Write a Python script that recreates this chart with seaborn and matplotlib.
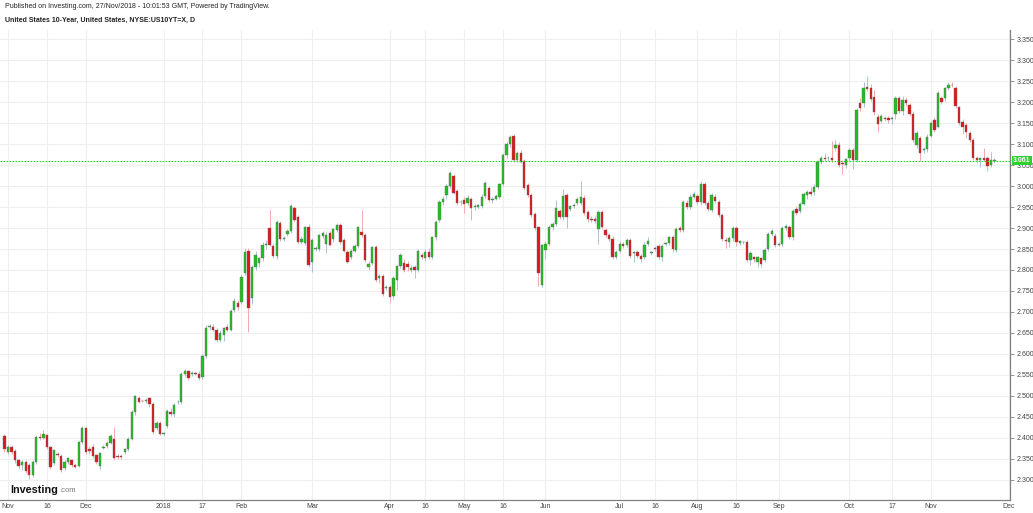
import numpy as np
import pandas as pd
import matplotlib
matplotlib.use('Agg')
import matplotlib.pyplot as plt
import matplotlib.transforms as mtransforms
import seaborn as sns

# daily candles, US 10Y yield, 31 Oct 2017 .. 27 Nov 2018 (weekdays)
opens = [
    2.405, 2.366, 2.377, 2.368, 2.346, 2.334, 2.343, 2.336, 2.310, 2.342, 2.401, 2.400, 2.406, 2.378, 2.340, 2.360,
    2.356, 2.328, 2.343, 2.346, 2.335, 2.333, 2.390,
    # dec
    2.422, 2.372, 2.378, 2.359, 2.332, 2.376, 2.380, 2.388, 2.396, 2.356, 2.355, 2.365, 2.372, 2.398, 2.462, 2.494,
    2.488, 2.487, 2.494, 2.480, 2.422,
    # jan
    2.436, 2.409, 2.428, 2.462, 2.456, 2.484, 2.485, 2.553, 2.558, 2.553, 2.553, 2.553, 2.545, 2.596, 2.664, 2.665,
    2.658, 2.633, 2.646, 2.665, 2.658, 2.704, 2.722,
    # feb
    2.724, 2.792, 2.846, 2.732, 2.806, 2.816, 2.828, 2.860, 2.900, 2.857, 2.833, 2.911, 2.875, 2.886, 2.892, 2.947,
    2.927, 2.867, 2.865, 2.903,
    # mar
    2.820, 2.850, 2.851, 2.880, 2.862, 2.887, 2.873, 2.895, 2.907, 2.872, 2.843, 2.830, 2.846, 2.857, 2.891, 2.883,
    2.808, 2.817, 2.854, 2.781, 2.785, 2.758,
    # apr
    2.760, 2.738, 2.776, 2.809, 2.817, 2.815, 2.800, 2.806, 2.800, 2.836, 2.828, 2.844, 2.830, 2.878, 2.919, 2.963,
    2.979, 3.000, 3.024, 2.988, 2.962,
    # may
    2.967, 2.960, 2.970, 2.950, 2.951, 2.952, 2.976, 2.996, 2.966, 2.970, 2.975, 3.006, 3.074, 3.100, 3.120, 3.062,
    3.080, 3.060, 3.003, 2.979, 2.933, 2.902, 2.764,
    # jun
    2.847, 2.862, 2.903, 2.909, 2.941, 2.927, 2.979, 2.945, 2.953, 2.960, 2.960, 2.971, 2.939, 2.922, 2.922, 2.897,
    2.939, 2.896, 2.883, 2.875, 2.832,
    # jul
    2.846, 2.861, 2.859, 2.871, 2.840, 2.843, 2.833, 2.830, 2.862, 2.840, 2.853, 2.857, 2.830, 2.862, 2.865, 2.879,
    2.848, 2.899, 2.895, 2.960, 2.951, 2.975,
    # aug
    2.976, 2.963, 3.005, 2.959, 2.943, 2.975, 2.962, 2.931, 2.872, 2.867, 2.877, 2.900, 2.864, 2.867, 2.867, 2.824,
    2.830, 2.818, 2.828, 2.824, 2.851, 2.886, 2.881,
    # sep
    2.860, 2.862, 2.900, 2.903, 2.878, 2.945, 2.940, 2.958, 2.978, 2.985, 2.985, 2.999, 3.058, 3.067, 3.066, 3.067,
    3.090, 3.098, 3.055, 3.050,
    # oct
    3.066, 3.086, 3.062, 3.199, 3.197, 3.237, 3.233, 3.213, 3.165, 3.155, 3.161, 3.162, 3.159, 3.171, 3.210, 3.178,
    3.205, 3.193, 3.172, 3.098, 3.114, 3.086, 3.088,
    # nov
    3.120, 3.158, 3.142, 3.209, 3.209, 3.233, 3.242, 3.233, 3.188, 3.154, 3.146, 3.126, 3.110, 3.066, 3.063, 3.068,
    3.068, 3.050, 3.060,
]
highs = [
    2.410, 2.382, 2.383, 2.372, 2.350, 2.348, 2.346, 2.340, 2.346, 2.406, 2.411, 2.418, 2.410, 2.381, 2.374, 2.365,
    2.360, 2.348, 2.355, 2.350, 2.338, 2.393, 2.428,
    # dec
    2.426, 2.380, 2.384, 2.362, 2.366, 2.382, 2.392, 2.410, 2.426, 2.360, 2.362, 2.376, 2.402, 2.466, 2.503, 2.500,
    2.490, 2.494, 2.498, 2.484, 2.440,
    # jan
    2.440, 2.414, 2.468, 2.470, 2.482, 2.490, 2.556, 2.565, 2.562, 2.558, 2.556, 2.560, 2.600, 2.668, 2.670, 2.672,
    2.662, 2.656, 2.664, 2.672, 2.708, 2.732, 2.728,
    # feb
    2.790, 2.852, 2.852, 2.812, 2.846, 2.832, 2.866, 2.872, 2.944, 2.862, 2.920, 2.916, 2.880, 2.898, 2.958, 2.952,
    2.932, 2.880, 2.906, 2.910,
    # mar
    2.876, 2.856, 2.886, 2.894, 2.890, 2.892, 2.900, 2.912, 2.912, 2.876, 2.848, 2.850, 2.862, 2.906, 2.944, 2.888,
    2.822, 2.858, 2.860, 2.790, 2.790, 2.764,
    # apr
    2.764, 2.786, 2.812, 2.840, 2.826, 2.822, 2.812, 2.812, 2.850, 2.840, 2.850, 2.852, 2.882, 2.918, 2.966, 2.976,
    3.004, 3.036, 3.030, 2.994, 2.968,
    # may
    2.975, 2.978, 2.974, 2.958, 2.958, 2.980, 3.012, 3.000, 2.974, 2.980, 3.008, 3.078, 3.106, 3.122, 3.124, 3.084,
    3.086, 3.064, 3.008, 2.984, 2.938, 2.906, 2.862,
    # jun
    2.868, 2.908, 2.914, 2.968, 2.946, 2.994, 2.984, 2.956, 2.960, 2.974, 3.012, 2.978, 2.944, 2.928, 2.928, 2.942,
    2.944, 2.900, 2.888, 2.880, 2.848,
    # jul
    2.868, 2.866, 2.876, 2.876, 2.846, 2.848, 2.838, 2.866, 2.878, 2.846, 2.858, 2.862, 2.862, 2.866, 2.882, 2.884,
    2.902, 2.904, 2.966, 2.966, 2.980, 2.988,
    # aug
    2.982, 3.012, 3.010, 2.964, 2.984, 2.980, 2.966, 2.936, 2.878, 2.880, 2.904, 2.904, 2.872, 2.870, 2.872, 2.845,
    2.834, 2.834, 2.832, 2.852, 2.890, 2.898, 2.888,
    # sep
    2.866, 2.904, 2.910, 2.908, 2.946, 2.952, 2.962, 2.985, 2.990, 2.998, 3.004, 3.062, 3.072, 3.080, 3.072, 3.108,
    3.110, 3.104, 3.062, 3.068,
    # oct
    3.090, 3.092, 3.186, 3.210, 3.248, 3.262, 3.244, 3.228, 3.172, 3.172, 3.166, 3.166, 3.166, 3.214, 3.215, 3.214,
    3.212, 3.198, 3.178, 3.132, 3.120, 3.094, 3.124,
    # nov
    3.156, 3.164, 3.226, 3.216, 3.236, 3.248, 3.248, 3.238, 3.192, 3.160, 3.150, 3.132, 3.114, 3.072, 3.070, 3.090,
    3.072, 3.082, 3.066,
]
lows = [
    2.366, 2.360, 2.360, 2.340, 2.326, 2.322, 2.316, 2.302, 2.306, 2.338, 2.395, 2.396, 2.373, 2.326, 2.336, 2.354,
    2.318, 2.324, 2.338, 2.331, 2.328, 2.330, 2.386,
    # dec
    2.362, 2.362, 2.352, 2.338, 2.326, 2.372, 2.376, 2.384, 2.346, 2.350, 2.350, 2.360, 2.368, 2.394, 2.455, 2.482,
    2.484, 2.482, 2.474, 2.408, 2.418,
    # jan
    2.406, 2.405, 2.424, 2.452, 2.450, 2.480, 2.480, 2.548, 2.538, 2.548, 2.549, 2.538, 2.540, 2.590, 2.658, 2.654,
    2.628, 2.628, 2.630, 2.654, 2.654, 2.700, 2.704,
    # feb
    2.720, 2.788, 2.652, 2.720, 2.800, 2.806, 2.822, 2.850, 2.856, 2.828, 2.826, 2.870, 2.870, 2.880, 2.888, 2.914,
    2.862, 2.862, 2.860, 2.808,
    # mar
    2.796, 2.846, 2.846, 2.876, 2.840, 2.856, 2.866, 2.890, 2.862, 2.842, 2.816, 2.826, 2.842, 2.852, 2.878, 2.820,
    2.800, 2.812, 2.772, 2.770, 2.738, 2.752,
    # apr
    2.722, 2.730, 2.752, 2.804, 2.796, 2.798, 2.794, 2.780, 2.796, 2.826, 2.822, 2.826, 2.826, 2.872, 2.914, 2.955,
    2.970, 2.996, 2.980, 2.955, 2.955,
    # may
    2.935, 2.955, 2.918, 2.944, 2.946, 2.948, 2.972, 2.962, 2.960, 2.966, 2.970, 3.000, 3.066, 3.094, 3.058, 3.058,
    3.054, 2.990, 2.974, 2.926, 2.896, 2.762, 2.760,
    # jun
    2.826, 2.858, 2.896, 2.904, 2.922, 2.920, 2.900, 2.940, 2.948, 2.954, 2.955, 2.930, 2.915, 2.915, 2.912, 2.862,
    2.898, 2.878, 2.870, 2.826, 2.826,
    # jul
    2.840, 2.852, 2.854, 2.828, 2.820, 2.828, 2.820, 2.826, 2.858, 2.836, 2.846, 2.825, 2.822, 2.858, 2.860, 2.844,
    2.844, 2.890, 2.890, 2.946, 2.946, 2.970,
    # aug
    2.958, 2.956, 2.955, 2.940, 2.938, 2.960, 2.926, 2.870, 2.852, 2.855, 2.870, 2.858, 2.860, 2.862, 2.818, 2.812,
    2.818, 2.808, 2.808, 2.818, 2.846, 2.880, 2.855,
    # sep
    2.856, 2.858, 2.896, 2.874, 2.872, 2.932, 2.936, 2.954, 2.970, 2.976, 2.978, 2.994, 3.052, 3.060, 3.060, 3.058,
    3.084, 3.046, 3.030, 3.044,
    # oct
    3.060, 3.040, 3.058, 3.180, 3.188, 3.226, 3.204, 3.170, 3.128, 3.150, 3.156, 3.150, 3.148, 3.160, 3.174, 3.170,
    3.190, 3.166, 3.104, 3.092, 3.060, 3.080, 3.082,
    # nov
    3.116, 3.128, 3.138, 3.196, 3.204, 3.228, 3.236, 3.186, 3.146, 3.124, 3.114, 3.104, 3.062, 3.056, 3.046, 3.060,
    3.036, 3.046, 3.056,
]
closes = [
    2.372, 2.377, 2.365, 2.346, 2.332, 2.343, 2.321, 2.310, 2.341, 2.401, 2.400, 2.408, 2.378, 2.331, 2.370, 2.358,
    2.323, 2.343, 2.351, 2.334, 2.331, 2.390, 2.422,
    # dec
    2.367, 2.368, 2.356, 2.343, 2.364, 2.379, 2.387, 2.403, 2.351, 2.355, 2.354, 2.372, 2.398, 2.462, 2.499, 2.486,
    2.487, 2.491, 2.480, 2.414, 2.435,
    # jan
    2.409, 2.410, 2.464, 2.456, 2.478, 2.485, 2.553, 2.560, 2.543, 2.554, 2.552, 2.542, 2.596, 2.662, 2.665, 2.658,
    2.633, 2.650, 2.662, 2.658, 2.702, 2.726, 2.712,
    # feb
    2.784, 2.844, 2.710, 2.806, 2.836, 2.828, 2.860, 2.862, 2.860, 2.833, 2.915, 2.875, 2.876, 2.892, 2.953, 2.919,
    2.867, 2.875, 2.903, 2.812,
    # mar
    2.872, 2.852, 2.883, 2.888, 2.883, 2.860, 2.897, 2.907, 2.867, 2.846, 2.820, 2.846, 2.857, 2.903, 2.883, 2.824,
    2.814, 2.854, 2.776, 2.785, 2.743, 2.760,
    # apr
    2.735, 2.782, 2.809, 2.836, 2.800, 2.806, 2.805, 2.800, 2.846, 2.830, 2.844, 2.830, 2.878, 2.915, 2.963, 2.970,
    3.000, 3.032, 2.984, 2.960, 2.961,
    # may
    2.957, 2.972, 2.948, 2.952, 2.954, 2.975, 3.008, 2.967, 2.970, 2.976, 3.005, 3.074, 3.100, 3.118, 3.062, 3.080,
    3.058, 2.995, 2.979, 2.931, 2.900, 2.792, 2.859,
    # jun
    2.862, 2.903, 2.909, 2.947, 2.927, 2.976, 2.927, 2.953, 2.956, 2.970, 2.975, 2.935, 2.921, 2.920, 2.917, 2.939,
    2.902, 2.883, 2.875, 2.832, 2.843,
    # jul
    2.862, 2.858, 2.871, 2.833, 2.843, 2.833, 2.825, 2.860, 2.870, 2.843, 2.850, 2.830, 2.857, 2.863, 2.878, 2.849,
    2.897, 2.895, 2.961, 2.951, 2.975, 2.982,
    # aug
    2.963, 3.006, 2.959, 2.945, 2.979, 2.965, 2.931, 2.875, 2.868, 2.877, 2.900, 2.867, 2.868, 2.866, 2.824, 2.841,
    2.826, 2.830, 2.814, 2.848, 2.886, 2.893, 2.859,
    # sep
    2.861, 2.900, 2.906, 2.878, 2.941, 2.937, 2.958, 2.980, 2.985, 2.982, 2.999, 3.058, 3.066, 3.065, 3.067, 3.063,
    3.098, 3.050, 3.052, 3.064,
    # oct
    3.086, 3.062, 3.181, 3.187, 3.233, 3.231, 3.208, 3.176, 3.147, 3.168, 3.160, 3.157, 3.163, 3.210, 3.178, 3.205,
    3.198, 3.172, 3.110, 3.126, 3.080, 3.088, 3.118,
    # nov
    3.151, 3.134, 3.221, 3.201, 3.233, 3.242, 3.240, 3.190, 3.151, 3.142, 3.130, 3.110, 3.066, 3.063, 3.066, 3.062,
    3.048, 3.062, 3.062,
]

tick_dates = ['2017-11-01', '2017-11-16', '2017-12-01', '2018-01-02', '2018-01-17', '2018-02-01',
              '2018-03-01', '2018-04-02', '2018-04-16', '2018-05-01', '2018-05-16', '2018-06-01',
              '2018-07-02', '2018-07-16', '2018-08-01', '2018-08-16', '2018-09-03', '2018-10-01',
              '2018-10-17', '2018-11-01', '2018-12-03']
tick_labels = ['Nov', '16', 'Dec', '2018', '17', 'Feb', 'Mar', 'Apr', '16', 'May', '16', 'Jun',
               'Jul', '16', 'Aug', '16', 'Sep', 'Oct', '17', 'Nov', 'Dec']
last_price = 3.061

sns.set_style('white')
plt.rcParams['font.family'] = ['Liberation Sans', 'DejaVu Sans']

df = pd.DataFrame({'open': opens, 'high': highs, 'low': lows, 'close': closes})
df['x'] = np.arange(len(df))
up = df['close'] >= df['open']

fig = plt.figure(figsize=(10.33, 5.13), dpi=100)
# plot area: x 0..1010 px, y 30..500 px
ax = fig.add_axes([0.0, 13 / 513, 1010 / 1033, 470 / 513])

# wicks
ax.vlines(df.x[up], df.low[up], df.high[up], color='#a9c2d2', lw=0.7, zorder=2)
ax.vlines(df.x[~up], df.low[~up], df.high[~up], color='#f3a9ae', lw=0.7, zorder=2)

# bodies
body = (df.close - df.open).abs().clip(lower=0.0015)
bottom = df[['open', 'close']].min(axis=1)
ax.bar(df.x[up], body[up], bottom=bottom[up], width=0.66, color='#1ec21e',
       edgecolor='#6a6a6a', linewidth=0.3, zorder=3)
ax.bar(df.x[~up], body[~up], bottom=bottom[~up], width=0.66, color='#e2151a',
       edgecolor='#6a6a6a', linewidth=0.3, zorder=3)

# last price line + label
ax.axhline(last_price, color='#2fd02f', lw=0.8, ls=(0, (1.5, 1.2)), zorder=4)
trans = mtransforms.blended_transform_factory(ax.transAxes, ax.transData)
ax.text(1.003, last_price, f'{last_price:.3f}', transform=trans, fontsize=5, color='white',
        fontweight='bold', va='center', ha='left', clip_on=False, zorder=6,
        bbox=dict(boxstyle='square,pad=0.2', fc='#2fd02f', ec='none'))

# axes
all_days = pd.bdate_range('2017-10-31', '2018-12-31')
tick_pos = all_days.get_indexer(pd.to_datetime(tick_dates))
ax.set_xlim(-1.27, 284.4)
ax.set_ylim(2.2515, 3.3722)
ax.set_xticks(tick_pos)
ax.set_xticklabels(tick_labels)
price_ticks = np.round(np.arange(2.30, 3.351, 0.05), 3)
ax.set_yticks(price_ticks)
ax.set_yticklabels([f'{v:.3f}' for v in price_ticks])
ax.yaxis.tick_right()
ax.tick_params(axis='y', labelsize=5, length=3, width=0.6, color='#808080',
               labelcolor='#444444', pad=2, direction='out')
ax.tick_params(axis='x', labelsize=5, length=2, width=0.6, color='#808080',
               labelcolor='#444444', pad=0.5, direction='out')
ax.grid(True, color='#efefef', lw=0.8)
ax.set_axisbelow(True)
for side in ['top', 'left']:
    ax.spines[side].set_visible(False)
for side in ['right', 'bottom']:
    ax.spines[side].set_color('#808080')
    ax.spines[side].set_linewidth(0.9)

# header
fig.text(5 / 1033, 1 - 7 / 513,
         'Published on Investing.com, 27/Nov/2018 - 10:01:53 GMT, Powered by TradingView.',
         fontsize=5, color='#222222', va='center', ha='left')
fig.text(5 / 1033, 1 - 20 / 513, 'United States 10-Year, United States, NYSE:US10YT=X, D',
         fontsize=5, fontweight='bold', color='#222222', va='center', ha='left')

# logo
fig.text(10 / 1033, 1 - 490 / 513, 'Investing', fontsize=7.8, fontweight='bold',
         color='#111111', va='center', ha='left')
fig.text(59 / 1033, 1 - 491 / 513, '.com', fontsize=5.5, color='#777777', va='center', ha='left')

fig.savefig('out.png', dpi=100)
